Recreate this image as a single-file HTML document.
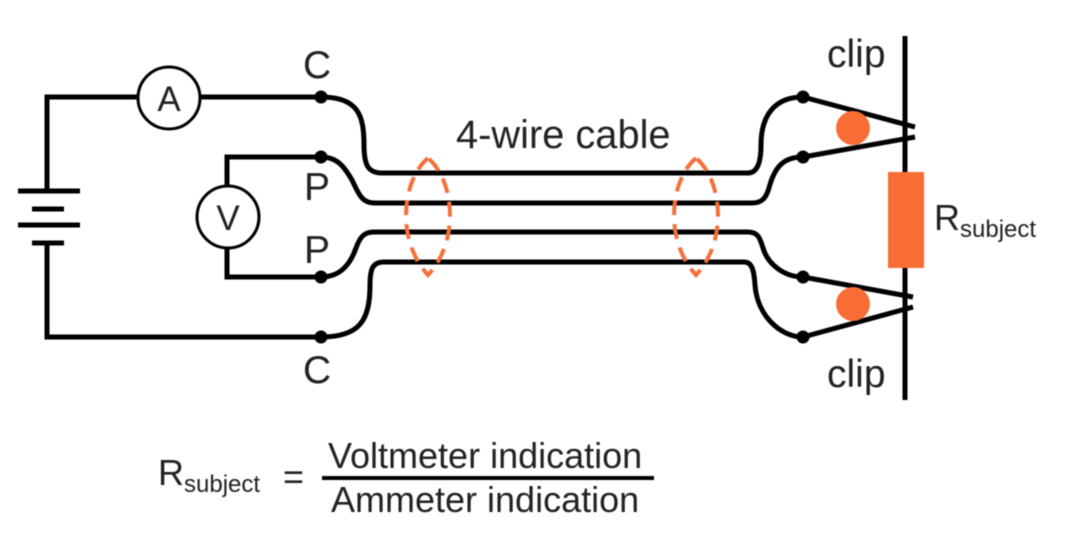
<!DOCTYPE html>
<html><head><meta charset="utf-8"><style>
html,body{margin:0;padding:0;background:#fff;width:1079px;height:543px;overflow:hidden}
svg{display:block;filter:blur(.6px)}
text{font-family:"Liberation Sans",sans-serif;fill:#222}
</style></head><body>
<svg width="1079" height="543" viewBox="0 0 1079 543">
<g fill="none" stroke="#000" stroke-width="5">
<path d="M137 97H47V191M47 243V337H321"/>
<path d="M201 97H321"/>
<path d="M227 186V157H321M227 248V277H321"/>
<path d="M18 191H80M32 209H64M18 225H80M32 243H64"/>
<path d="M321 97C358 97 364 115 364 145C364 165 368 173 382 173H748C758 173 761 160 761 145C761 115 775 97 803 97"/>
<path d="M321 157C338 157 345 168 352 180C358 192 361 203 374 203H752C762 203 766 198 769 188C775 165 785 157 803 157"/>
<path d="M321 277C340 277 350 265 356 248C360 237 364 232 374 232H748C758 232 760 238 763 248C768 265 785 277 803 277"/>
<path d="M321 337C360 337 370 320 370 285C370 268 373 262 384 262H744C752 262 754 270 755 285C757 315 780 337 803 337"/>
<path d="M905 36V400"/>
<path d="M803 97L915 127M803 157L915 137M803 277L913 297M803 337L913 307"/>
</g>
<g fill="#000"><circle cx="321" cy="97" r="6.5"/><circle cx="321" cy="157" r="6.5"/><circle cx="321" cy="277" r="6.5"/><circle cx="321" cy="337" r="6.5"/><circle cx="803" cy="97" r="6.5"/><circle cx="803" cy="157" r="6.5"/><circle cx="803" cy="277" r="6.5"/><circle cx="803" cy="337" r="6.5"/></g>
<g fill="#fff" stroke="#000" stroke-width="3"><circle cx="169" cy="98" r="31"/><circle cx="228" cy="217" r="31"/></g>
<g fill="#f76d33"><rect x="888" y="172" width="36" height="96"/><circle cx="853" cy="128" r="17"/><circle cx="853" cy="304" r="17"/></g>
<g fill="none" stroke="#f4703a" stroke-width="4" stroke-dasharray="15 9">
<path d="M428 158C412 172 406 195 406 216C406 238 414 260 428 275C442 260 450 238 450 216C450 195 444 172 428 158Z"/>
<path d="M696 158C680 172 674 195 674 216C674 238 682 260 696 275C710 260 718 238 718 216C718 195 712 172 696 158Z"/>
</g>
<g font-size="36">
<text x="169" y="111" text-anchor="middle" font-size="35">A</text>
<text x="228" y="230" text-anchor="middle" font-size="35">V</text>
<g font-size="39">
<text x="303" y="78">C</text><text x="304" y="200">P</text><text x="304" y="263">P</text><text x="303" y="383">C</text>
<text x="456" y="148" font-size="39.8">4-wire cable</text>
<text x="827" y="67">clip</text><text x="827" y="387">clip</text>
</g>
<text x="934" y="230">R<tspan font-size="24" dy="7">subject</tspan></text>
<text x="158" y="485">R<tspan font-size="24" dy="7">subject</tspan></text>
<text x="283" y="489">=</text>
<text x="328" y="468">Voltmeter indication</text>
<text x="331" y="512">Ammeter indication</text>
</g>
<rect x="322" y="476" width="332" height="4" fill="#000"/>
</svg>
</body></html>
